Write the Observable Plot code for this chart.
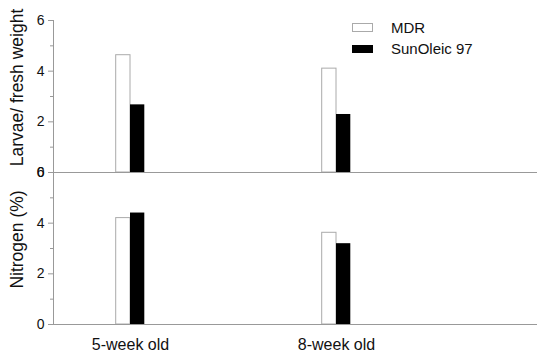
<!DOCTYPE html>
<html>
<head>
<meta charset="utf-8">
<script src="https://cdn.jsdelivr.net/npm/d3@7"></script>
<script src="https://cdn.jsdelivr.net/npm/@observablehq/plot@0.6"></script>
<style>
  body { margin: 0; background: #fff; font-family: Arial, "Liberation Sans", Helvetica, sans-serif; }
  #wrap { position: relative; width: 537px; height: 354px; }
  .sw { position: absolute; left: 352px; width: 21px; box-sizing: border-box; }
  .lt { position: absolute; left: 391px; font-size: 15px; color: #111; line-height: 17px; white-space: nowrap; }
</style>
</head>
<body>
<div id="wrap">
  <div id="chart"></div>
  <div class="sw" style="top:23px;height:9px;background:#fff;border:1px solid #aaa;"></div>
  <div class="lt" style="top:19px;" id="l1"></div>
  <div class="sw" style="top:45px;height:8px;background:#000;"></div>
  <div class="lt" style="top:40px;" id="l2"></div>
</div>
<script>
const groups = ["5-week old", "8-week old"];
const series = ["MDR", "SunOleic 97"];
const panels = ["Larvae/ fresh weight", "Nitrogen (%)"];
const larvaeMDR = [4.63, 4.1];
const larvaeSunOleic = [2.67, 2.29];
const nitrogenMDR = [4.2, 3.62];
const nitrogenSunOleic = [4.4, 3.19];
const yTicks = [0, 2, 4, 6];
const yMinorTicks = [1, 3, 5];

const rows = [];
groups.forEach((g, i) => {
  rows.push({panel: panels[0], group: g, series: series[0], value: larvaeMDR[i]});
  rows.push({panel: panels[0], group: g, series: series[1], value: larvaeSunOleic[i]});
  rows.push({panel: panels[1], group: g, series: series[0], value: nitrogenMDR[i]});
  rows.push({panel: panels[1], group: g, series: series[1], value: nitrogenSunOleic[i]});
});

document.getElementById("l1").textContent = series[0];
document.getElementById("l2").textContent = series[1];

const chart = Plot.plot({
  width: 537,
  height: 354,
  marginTop: 20,
  marginBottom: 30,
  marginLeft: 53,
  marginRight: 0,
  style: {fontFamily: "Arial, 'Liberation Sans', Helvetica, sans-serif", color: "#111", background: "white", overflow: "visible"},
  fy: {domain: panels, padding: 0, axis: null},
  x: {type: "band", domain: groups, range: [27, 439], padding: 0, axis: null},
  y: {domain: [0, 6], axis: null},
  marks: [
    Plot.barY(rows.filter(d => d.series === series[0]), {x: "group", y: "value", fy: "panel", fill: "white", stroke: "#aaa", strokeWidth: 1, insetLeft: 88.7, insetRight: 103}),
    Plot.barY(rows.filter(d => d.series === series[1]), {x: "group", y: "value", fy: "panel", fill: "black", insetLeft: 103, insetRight: 88.7}),
    Plot.ruleY([0], {stroke: "#999"}),
    Plot.frame({anchor: "left", stroke: "#999"}),
    Plot.axisY({ticks: yTicks, tickFormat: d3.format("d"), tickSize: 5, tickPadding: 4, stroke: "#999", fill: "#111", fontSize: 14, label: null}),
    Plot.axisY({ticks: yMinorTicks, tickSize: 3, stroke: "#999", text: null, label: null}),
    Plot.axisX({tickSize: 0, tickPadding: 14, fontSize: 16, fill: "#111", label: null}),
    Plot.text(panels, {fy: d => d, text: d => d, frameAnchor: "left", textAnchor: "middle", dx: -36, dy: -9, rotate: -90, fontSize: 17.5, fill: "#111"})
  ]
});
document.getElementById("chart").appendChild(chart);
</script>
</body>
</html>
